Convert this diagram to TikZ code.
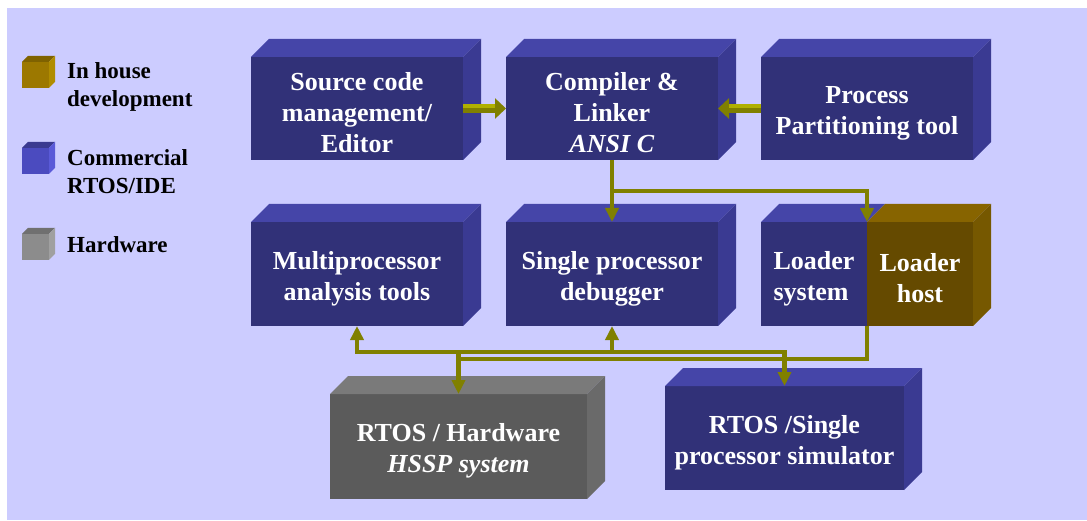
\documentclass[tikz,border=0pt]{standalone}
\usepackage{fontspec}
\setmainfont{Liberation Serif}
\usetikzlibrary{arrows.meta,positioning}
\definecolor{bgblue}{HTML}{CCCCFF}
\definecolor{cfront}{HTML}{313178}
\definecolor{ctop}{HTML}{4545A8}
\definecolor{cside}{HTML}{3A3A92}
\definecolor{hfront}{HTML}{654A00}
\definecolor{htop}{HTML}{876400}
\definecolor{hside}{HTML}{765800}
\definecolor{gfront}{HTML}{5B5B5B}
\definecolor{gtop}{HTML}{7A7A7A}
\definecolor{gside}{HTML}{6A6A6A}
\definecolor{lhfront}{HTML}{9C7800}
\definecolor{lhtop}{HTML}{7F6200}
\definecolor{lhside}{HTML}{B08C00}
\definecolor{lcfront}{HTML}{4B4BBF}
\definecolor{lctop}{HTML}{3A3A90}
\definecolor{lcside}{HTML}{5A5AD8}
\definecolor{lgfront}{HTML}{8C8C8C}
\definecolor{lgtop}{HTML}{707070}
\definecolor{lgside}{HTML}{A0A0A0}
\definecolor{olived}{HTML}{808000}
\definecolor{olivel}{HTML}{B0B000}
\tikzset{
  block/.style={fill=#1, text=white, align=center, inner sep=0pt, outer sep=0pt,
                minimum width=212pt, minimum height=103pt,
                font=\fontsize{26}{31}\selectfont\bfseries},
  legbox/.style={fill=#1, inner sep=0pt, outer sep=0pt, minimum width=27pt, minimum height=26pt},
  legtext/.style={anchor=north west, align=left, inner sep=0pt,
                  font=\fontsize{23}{28}\selectfont\bfseries},
  link/.style={draw=olived, line width=4.5pt},
  linkto/.style={link, -{Triangle[length=14pt,width=13pt]}},
  linkboth/.style={link, {Triangle[length=14pt,width=13pt]}-{Triangle[length=14pt,width=13pt]}}
}
% pushes the block text a little down
\newcommand{\topstrut}{\rule{0pt}{27pt}}
% faces of the 3d blocks: node, colour, depth
\newcommand{\topface}[3]{%
  \fill[#2] (#1.north west) -- ([shift={(#3,-#3)}]#1.north west)
    -- ([shift={(#3,-#3)}]#1.north east) -- (#1.north east) -- cycle;}
\newcommand{\sideface}[3]{%
  \fill[#2] (#1.north east) -- ([shift={(#3,-#3)}]#1.north east)
    -- ([shift={(#3,-#3)}]#1.south east) -- (#1.south east) -- cycle;}
% fat two-tone arrow between blocks
\newcommand{\fatarrow}[2]{%
  \draw[olived, line width=9pt, -{Triangle[length=11pt,width=20pt]}] (#1) -- (#2);
  \draw[olivel, line width=4pt, shorten >=11pt] ([yshift=2.5pt]#1) -- ([yshift=2.5pt]#2);}

\begin{document}
\begin{tikzpicture}[x=1pt,y=-1pt]
  \useasboundingbox (0,0) rectangle (1087,521);
  \fill[bgblue] (7,8) rectangle (1087,520);

  % legend
  \node[legbox=lhfront] (lgin) at (35.5,75) {};
  \node[legbox=lcfront] (lgcom) at (35.5,161) {};
  \node[legbox=lgfront] (lghw) at (35.5,247) {};
  \topface{lgin}{lhtop}{6} \sideface{lgin}{lhside}{6}
  \topface{lgcom}{lctop}{6} \sideface{lgcom}{lcside}{6}
  \topface{lghw}{lgtop}{6} \sideface{lghw}{lgside}{6}
  \node[legtext] (txin) at (67,62) {In house\\development};
  \node[legtext] (txcom) at (67,149) {Commercial\\RTOS/IDE};
  \node[legtext] (txhw) at (67,236) {Hardware};

  % blocks
  \node[block=cfront] (src) at (357,108.5) {\topstrut Source code\\management/\\Editor};
  \node[block=cfront, right=43pt of src] (comp) {\topstrut Compiler \&\\Linker\\\textit{ANSI C}};
  \node[block=cfront, right=43pt of comp] (proc) {\topstrut Process\\Partitioning tool};
  \node[block=cfront, below=62pt of src, minimum height=104pt] (multi) {\topstrut Multiprocessor\\analysis tools};
  \node[block=cfront, right=43pt of multi, minimum height=104pt] (dbg) {\topstrut Single processor\\debugger};
  \node[block=cfront, right=43pt of dbg, minimum width=106pt, minimum height=104pt, align=left] (loadsys) {\topstrut Loader\\system};
  \node[block=hfront, right=0pt of loadsys, minimum width=106pt, minimum height=104pt] (loadhost) {\topstrut Loader\\host};
  \node[block=gfront, minimum width=257pt, minimum height=105pt] (hssp) at (458.5,446.5) {\topstrut RTOS / Hardware\\\textit{HSSP system}};
  \node[block=cfront, minimum width=239pt, minimum height=104pt] (rtsim) at (784.5,438) {\topstrut RTOS /Single\\processor simulator};

  \foreach \b in {src,comp,proc,multi,dbg,rtsim}{
    \topface{\b}{ctop}{18} \sideface{\b}{cside}{18}
  }
  \topface{loadsys}{ctop}{18}
  \topface{loadhost}{htop}{18} \sideface{loadhost}{hside}{18}
  \topface{hssp}{gtop}{18} \sideface{hssp}{gside}{18}

  % connectors
  \fatarrow{src.east}{comp.west}
  \fatarrow{proc.west}{comp.east}
  \coordinate (fork) at (0,191);
  \coordinate (upbus) at (0,352);
  \coordinate (lowbus) at (0,359);
  \draw[linkto] (comp.south) -- (dbg.north);
  \draw[linkto] (comp.south |- fork) -| (loadsys.north east);
  \draw[linkboth] (multi.south) |- (rtsim.north |- upbus) -- (rtsim.north);
  \draw[linkto] (dbg.south |- upbus) -- (dbg.south);
  \draw[link] (hssp.north |- upbus) -- (hssp.north |- lowbus);
  \draw[linkto] (loadhost.south west) |- (hssp.north |- lowbus) -- (hssp.north);
\end{tikzpicture}
\end{document}
